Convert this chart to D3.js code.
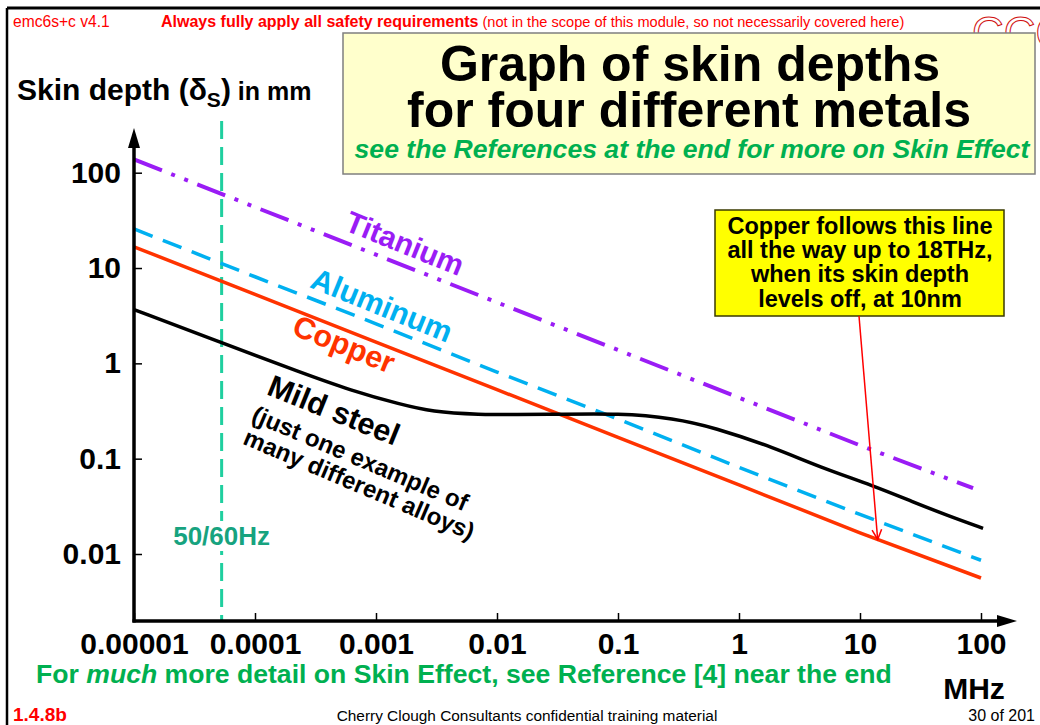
<!DOCTYPE html>
<html>
<head>
<meta charset="utf-8">
<script src="https://cdn.jsdelivr.net/npm/d3@7"></script>
<style>
  html, body { margin: 0; padding: 0; background: #fff; }
  svg { display: block; }
  text { font-family: "Liberation Sans", Arial, Helvetica, sans-serif; }
</style>
</head>
<body>
<svg id="chart" width="1040" height="725"></svg>
<script>
// ---------------- data ----------------
const freqMHz      = [1e-5, 1e-4, 1e-3, 1e-2, 1e-1, 1, 10, 100];
const copperMM     = [16.7, 5.3, 1.67, 0.53, 0.167, 0.053, 0.0167, 0.0056];
const aluminumMM   = [25.7, 8.1, 2.6, 0.81, 0.26, 0.081, 0.026, 0.0086];
const titaniumFreq = [1e-5, 1e-4, 1e-3, 1e-2, 1e-1, 1, 10, 86];
const titaniumMM   = [138, 43.6, 13.8, 4.36, 1.38, 0.436, 0.138, 0.049];
const steelFreq    = [1e-5, 5.4e-5, 2.4e-4, 6.2e-4, 1.6e-3, 3.0e-3, 6.1e-3, 0.028, 0.105, 0.29, 0.62, 1.93, 4.7, 12.9, 27.6, 52.7, 104];
const steelMM      = [3.66, 1.63, 0.80, 0.52, 0.37, 0.31, 0.29, 0.29, 0.30, 0.265, 0.213, 0.131, 0.081, 0.052, 0.035, 0.0254, 0.0186];
const mainsMHz     = [5.3e-5];
const arrowTarget  = [14, 0.0142];   // point on copper line the note points at

const xTicks      = [1e-5, 1e-4, 1e-3, 1e-2, 1e-1, 1, 10, 100];
const xTickLabels = ["0.00001", "0.0001", "0.001", "0.01", "0.1", "1", "10", "100"];
const yTicks      = [100, 10, 1, 0.1, 0.01];
const yTickLabels = ["100", "10", "1", "0.1", "0.01"];

const seriesNames = ["Titanium", "Aluminum", "Copper", "Mild steel"];
const noteLines   = ["Copper follows this line", "all the way up to 18THz,", "when its skin depth", "levels off, at 10nm"];

// ---------------- drawing ----------------
const svg = d3.select("#chart");
const FONT = '"Liberation Sans", Arial, Helvetica, sans-serif';

const x = d3.scaleLog().domain([1e-5, 100]).range([134, 981]);
const y = d3.scaleLog().domain([0.01, 100]).range([554, 172.7]);
const axisY = 621;

// slide frame
svg.append("line").attr("x1", 7).attr("x2", 1040).attr("y1", 8).attr("y2", 8)
  .attr("stroke", "#000").attr("stroke-width", 3);
svg.append("line").attr("x1", 7).attr("x2", 7).attr("y1", 8).attr("y2", 725)
  .attr("stroke", "#000").attr("stroke-width", 2.5);

// header
svg.append("text").attr("x", 13).attr("y", 27).attr("fill", "#ff0000")
  .attr("font-size", 15.6).text("emc6s+c v4.1");
const hdr = svg.append("text").attr("x", 161).attr("y", 27).attr("fill", "#ff0000").attr("font-size", 16);
hdr.append("tspan").attr("font-weight", "bold").text("Always fully apply all safety requirements");
hdr.append("tspan").attr("font-size", 14.6).text(" (not in the scope of this module, so not necessarily covered here)");

// CCC logo
svg.append("text").attr("x", 972).attr("y", 48).attr("font-family", '"Liberation Serif", "DejaVu Serif", serif')
  .attr("font-size", 44).attr("fill", "#fff").attr("stroke", "#d01010").attr("stroke-width", 1)
  .text("CCC");

// title box
svg.append("rect").attr("x", 343).attr("y", 33).attr("width", 692).attr("height", 141)
  .attr("fill", "#ffffcc").attr("stroke", "#7f7f7f").attr("stroke-width", 1.5);
svg.append("text").attr("x", 690).attr("y", 81).attr("text-anchor", "middle")
  .attr("font-size", 50).attr("font-weight", "bold").attr("fill", "#000").text("Graph of skin depths");
svg.append("text").attr("x", 689).attr("y", 127).attr("text-anchor", "middle")
  .attr("font-size", 50).attr("font-weight", "bold").attr("fill", "#000").text("for four different metals");
svg.append("text").attr("x", 692).attr("y", 158).attr("text-anchor", "middle")
  .attr("font-size", 26.6).attr("font-weight", "bold").attr("font-style", "italic").attr("fill", "#00b050")
  .text("see the References at the end for more on Skin Effect");

// y axis title
const yt = svg.append("text").attr("x", 17).attr("y", 100).attr("font-weight", "bold").attr("fill", "#000");
yt.append("tspan").attr("font-size", 30).text("Skin depth (δ");
yt.append("tspan").attr("font-size", 21).attr("dy", 7).text("S");
yt.append("tspan").attr("font-size", 30).attr("dy", -7).text(")");
yt.append("tspan").attr("font-size", 25).text(" in mm");

// mains frequency dashed line
const mx = x(mainsMHz[0]);
svg.append("line").attr("x1", mx).attr("x2", mx).attr("y1", 121).attr("y2", axisY)
  .attr("stroke", "#1fcf9f").attr("stroke-width", 3).attr("stroke-dasharray", "18,8");
const mainsLbl = svg.append("text").attr("x", mx).attr("y", 545).attr("text-anchor", "middle")
  .attr("font-size", 26).attr("font-weight", "bold").attr("fill", "#17a37f").text("50/60Hz");
const bb = mainsLbl.node().getBBox();
svg.insert("rect", "text:last-of-type").attr("x", bb.x - 2).attr("y", bb.y).attr("width", bb.width + 4)
  .attr("height", bb.height).attr("fill", "#fff");

// series lines
const line = d3.line().x(d => x(d[0])).y(d => y(d[1]));
const curve = d3.line().x(d => x(d[0])).y(d => y(d[1])).curve(d3.curveBasis);

svg.append("path").datum(titaniumFreq.map((f, i) => [f, titaniumMM[i]])).attr("d", line)
  .attr("fill", "none").attr("stroke", "#9a1cf5").attr("stroke-width", 4)
  .attr("stroke-dasharray", "30,10,4,10,4,10");
svg.append("path").datum(freqMHz.map((f, i) => [f, aluminumMM[i]])).attr("d", line)
  .attr("fill", "none").attr("stroke", "#00b0f0").attr("stroke-width", 3.5)
  .attr("stroke-dasharray", "20,11");
svg.append("path").datum(freqMHz.map((f, i) => [f, copperMM[i]])).attr("d", line)
  .attr("fill", "none").attr("stroke", "#ff3300").attr("stroke-width", 3.5);
svg.append("path").datum(steelFreq.map((f, i) => [f, steelMM[i]])).attr("d", curve)
  .attr("fill", "none").attr("stroke", "#000").attr("stroke-width", 3.5);

// axes
const gx = svg.append("g").attr("transform", `translate(0,${axisY})`)
  .call(d3.axisBottom(x).tickValues(xTicks).tickFormat((d, i) => xTickLabels[i])
    .tickSizeInner(-8).tickSizeOuter(0).tickPadding(12));
gx.select(".domain").remove();
gx.selectAll(".tick line").attr("stroke", "#000").attr("stroke-width", 1.5);
gx.selectAll(".tick text").attr("font-family", FONT).attr("font-size", 30).attr("font-weight", "bold").attr("fill", "#000");

const gy = svg.append("g").attr("transform", `translate(${x(1e-5)},0)`)
  .call(d3.axisLeft(y).tickValues(yTicks).tickFormat((d, i) => yTickLabels[i])
    .tickSizeInner(-8).tickSizeOuter(0).tickPadding(13));
gy.select(".domain").remove();
gy.selectAll(".tick line").attr("stroke", "#000").attr("stroke-width", 1.5);
gy.selectAll(".tick text").attr("font-family", FONT).attr("font-size", 30).attr("font-weight", "bold").attr("fill", "#000");

const x0 = x(1e-5);
svg.append("line").attr("x1", x0).attr("x2", x0).attr("y1", axisY + 1.5).attr("y2", 140)
  .attr("stroke", "#000").attr("stroke-width", 3.5);
svg.append("path").attr("d", `M${x0},128 L${x0 - 6},148 L${x0 + 6},148 Z`).attr("fill", "#000");
svg.append("line").attr("x1", x0 - 1.5).attr("x2", 1005).attr("y1", axisY).attr("y2", axisY)
  .attr("stroke", "#000").attr("stroke-width", 3.5);
svg.append("path").attr("d", `M1017,${axisY} L997,${axisY - 6} L997,${axisY + 6} Z`).attr("fill", "#000");

// series labels
const ang = 22;
function rotLabel(txt, cx, cy, size, color, a) {
  svg.append("text").attr("x", cx).attr("y", cy).attr("text-anchor", "middle")
    .attr("transform", `rotate(${a},${cx},${cy})`)
    .attr("font-size", size).attr("font-weight", "bold").attr("fill", color).text(txt);
}
rotLabel(seriesNames[0], 401, 253, 30, "#9a1cf5", ang);
rotLabel(seriesNames[1], 378, 315, 30.5, "#00b0f0", ang);
rotLabel(seriesNames[2], 340, 354, 30.5, "#ff3300", ang);
rotLabel(seriesNames[3], 330, 420, 30.5, "#000", ang);
rotLabel("(just one example of", 357, 466, 24, "#000", 23);
rotLabel("many different alloys)", 356, 492, 24, "#000", 23);

// note box + arrow
svg.append("rect").attr("x", 715).attr("y", 210).attr("width", 289).attr("height", 106)
  .attr("fill", "#ffff00").attr("stroke", "#3a3a00").attr("stroke-width", 1.5);
noteLines.forEach((t, i) => {
  svg.append("text").attr("x", 860).attr("y", 234 + i * 24.2).attr("text-anchor", "middle")
    .attr("font-size", 23.5).attr("font-weight", "bold").attr("fill", "#000").text(t);
});
const tx = x(arrowTarget[0]), ty = y(arrowTarget[1]);
const sx = 859, sy = 316;
svg.append("line").attr("x1", sx).attr("y1", sy).attr("x2", tx).attr("y2", ty)
  .attr("stroke", "#ff0000").attr("stroke-width", 1.5);
const dAng = Math.atan2(ty - sy, tx - sx);
const ah = 11, spread = 0.45;
svg.append("path")
  .attr("d", `M${tx - ah * Math.cos(dAng - spread)},${ty - ah * Math.sin(dAng - spread)} L${tx},${ty} L${tx - ah * Math.cos(dAng + spread)},${ty - ah * Math.sin(dAng + spread)}`)
  .attr("fill", "none").attr("stroke", "#ff0000").attr("stroke-width", 1.5);

// x unit
svg.append("text").attr("x", 974).attr("y", 699).attr("text-anchor", "middle")
  .attr("font-size", 30).attr("font-weight", "bold").attr("fill", "#000").text("MHz");

// footer
const ft = svg.append("text").attr("x", 36).attr("y", 683).attr("font-size", 26.6)
  .attr("font-weight", "bold").attr("fill", "#00b050");
ft.append("tspan").text("For ");
ft.append("tspan").attr("font-style", "italic").text("much");
ft.append("tspan").text(" more detail on Skin Effect, see Reference [4] near the end");

svg.append("text").attr("x", 13).attr("y", 721).attr("font-size", 19).attr("font-weight", "bold")
  .attr("fill", "#ff0000").text("1.4.8b");
svg.append("text").attr("x", 527).attr("y", 721).attr("text-anchor", "middle").attr("font-size", 15.4)
  .attr("fill", "#000").text("Cherry Clough Consultants confidential training material");
svg.append("text").attr("x", 1035).attr("y", 721).attr("text-anchor", "end").attr("font-size", 16)
  .attr("fill", "#000").text("30 of 201");
</script>
</body>
</html>
